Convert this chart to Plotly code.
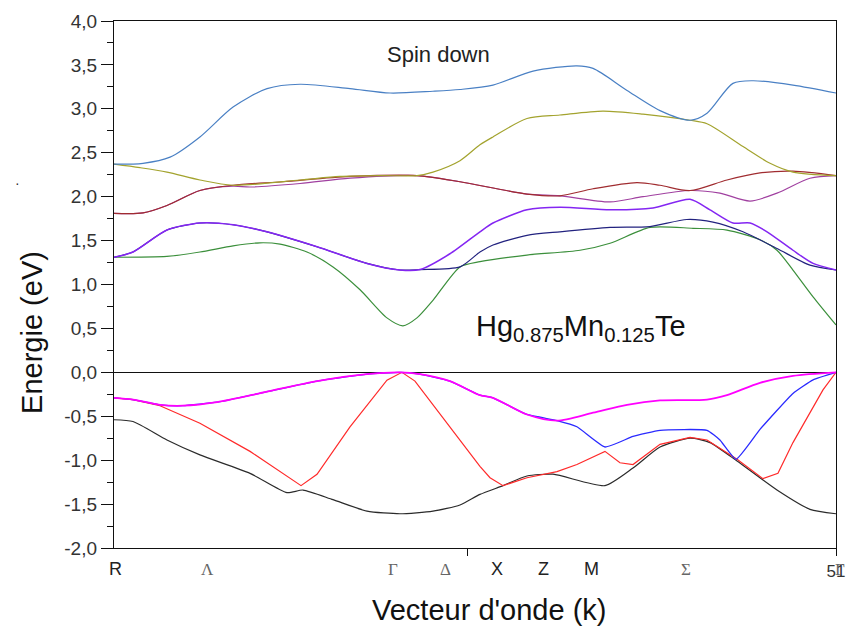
import plotly.graph_objects as go

# ---------------- data (k = k-point index along path, E in eV) ----------------
k_c6 = [0, 2.05, 3.96, 6.07, 8.41, 10.81, 13.14, 16.67, 19.50, 22.53, 24.44, 26.77, 29.60, 32.70, 33.84, 36.24, 38.57, 40.69, 41.89, 43.72, 45.14, 47.96, 51.0]
e_c6 = [2.37, 2.38, 2.45, 2.68, 3.02, 3.23, 3.28, 3.23, 3.18, 3.20, 3.22, 3.27, 3.43, 3.49, 3.46, 3.21, 2.98, 2.87, 2.95, 3.29, 3.32, 3.27, 3.18]

k_c5 = [0, 1.84, 3.74, 6.07, 8.41, 13.14, 15.96, 18.79, 21.40, 22.53, 24.44, 25.85, 26.77, 29.17, 31.50, 34.54, 37.37, 40.69, 41.89, 44.43, 46.34, 47.96, 51.0]
e_c5 = [2.37, 2.33, 2.28, 2.19, 2.13, 2.19, 2.23, 2.24, 2.24, 2.28, 2.41, 2.59, 2.68, 2.89, 2.93, 2.975, 2.94, 2.87, 2.83, 2.57, 2.38, 2.28, 2.24]

k_c4 = [0, 2.05, 3.74, 6.07, 8.41, 11.94, 16.67, 21.40, 24.44, 29.17, 31.50, 33.84, 36.94, 38.57, 40.69, 43.30, 45.63, 47.96, 51.0]
e_c4 = [1.81, 1.815, 1.90, 2.07, 2.13, 2.17, 2.23, 2.24, 2.17, 2.03, 2.01, 2.09, 2.16, 2.13, 2.07, 2.19, 2.27, 2.29, 2.24]

k_c3 = [0, 2.05, 3.74, 6.07, 8.41, 9.61, 13.14, 16.67, 21.40, 24.44, 29.17, 31.50, 35.04, 37.37, 40.69, 42.80, 44.93, 46.83, 49.16, 51.0]
e_c3 = [1.81, 1.815, 1.90, 2.07, 2.12, 2.11, 2.15, 2.21, 2.24, 2.17, 2.03, 2.01, 1.94, 2.00, 2.07, 2.04, 1.95, 2.04, 2.21, 2.24]

k_c2 = [0, 1.34, 3.74, 6.07, 8.41, 10.81, 14.34, 17.87, 20.20, 21.61, 23.73, 25.85, 26.77, 29.17, 31.50, 35.04, 38.07, 40.69, 42.10, 43.72, 44.93, 46.13, 47.96, 49.38, 51.0]
e_c2 = [1.31, 1.37, 1.62, 1.70, 1.68, 1.60, 1.43, 1.24, 1.165, 1.17, 1.35, 1.60, 1.70, 1.85, 1.88, 1.85, 1.87, 1.97, 1.85, 1.70, 1.70, 1.60, 1.39, 1.24, 1.165]

k_c1 = [0, 1.34, 3.74, 6.07, 8.41, 10.81, 14.34, 17.87, 20.20, 21.61, 24.44, 25.85, 26.77, 29.17, 31.50, 35.04, 37.86, 40.47, 42.31, 44.43, 46.83, 49.16, 51.0]
e_c1 = [1.31, 1.37, 1.62, 1.70, 1.68, 1.60, 1.43, 1.24, 1.165, 1.17, 1.20, 1.37, 1.45, 1.56, 1.60, 1.65, 1.66, 1.74, 1.71, 1.60, 1.41, 1.22, 1.165]

k_c0 = [0, 3.74, 6.07, 8.41, 10.31, 11.73, 13.63, 15.47, 17.38, 19.28, 20.41, 21.40, 22.53, 24.44, 25.85, 29.17, 32.92, 35.04, 37.86, 40.90, 43.30, 45.63, 46.83, 47.96, 49.38, 51.0]
e_c0 = [1.31, 1.32, 1.37, 1.44, 1.475, 1.46, 1.37, 1.20, 0.94, 0.62, 0.53, 0.62, 0.82, 1.20, 1.26, 1.335, 1.39, 1.47, 1.65, 1.64, 1.62, 1.51, 1.39, 1.165, 0.86, 0.54]

k_v3 = [0, 1.34, 3.25, 4.87, 7.28, 10.81, 14.34, 17.87, 20.20, 21.61, 23.73, 25.85, 26.77, 29.17, 31.29, 33.84, 36.24, 38.57, 41.89, 43.30, 45.63, 47.96, 51.0]
e_v3 = [-0.29, -0.31, -0.37, -0.38, -0.34, -0.22, -0.10, -0.02, 0.0, -0.02, -0.10, -0.26, -0.29, -0.48, -0.55, -0.46, -0.37, -0.32, -0.31, -0.26, -0.12, -0.04, 0.0]

k_v2 = [0, 1.34, 3.25, 4.87, 7.28, 10.81, 14.34, 17.87, 20.20, 21.61, 23.73, 25.85, 26.77, 29.17, 31.29, 32.70, 34.68, 36.66, 38.57, 41.89, 42.80, 43.94, 45.63, 47.96, 49.38, 51.0]
e_v2 = [-0.29, -0.31, -0.37, -0.38, -0.34, -0.22, -0.10, -0.02, 0.0, -0.02, -0.10, -0.26, -0.29, -0.48, -0.55, -0.62, -0.85, -0.73, -0.66, -0.66, -0.77, -0.99, -0.65, -0.24, -0.085, 0.0]

k_v1 = [0, 1.34, 3.25, 6.07, 9.61, 13.21, 14.34, 16.67, 19.28, 20.34, 21.26, 23.52, 25.85, 26.56, 27.48, 29.17, 31.29, 32.70, 34.68, 35.74, 36.66, 38.57, 40.69, 41.89, 44.01, 45.84, 46.90, 47.96, 50.08, 51.0]
e_v1 = [-0.29, -0.31, -0.38, -0.58, -0.90, -1.29, -1.16, -0.62, -0.09, 0.0, -0.10, -0.58, -1.07, -1.20, -1.29, -1.20, -1.13, -1.05, -0.90, -1.03, -1.05, -0.82, -0.74, -0.77, -0.99, -1.21, -1.15, -0.80, -0.20, 0.0]

k_v0 = [0, 1.34, 3.74, 6.07, 9.61, 12.22, 13.35, 15.47, 17.87, 20.20, 22.53, 24.44, 25.85, 27.48, 29.17, 31.01, 34.68, 36.66, 38.57, 40.69, 42.10, 44.01, 46.83, 49.16, 51.0]
e_v0 = [-0.54, -0.56, -0.77, -0.94, -1.15, -1.37, -1.34, -1.45, -1.58, -1.61, -1.58, -1.51, -1.39, -1.29, -1.18, -1.16, -1.29, -1.09, -0.85, -0.75, -0.80, -1.01, -1.34, -1.56, -1.61]

sym_labels = ["R", "Λ", "Γ", "Δ", "X", "Z", "M", "Σ", "Γ"]
sym_k = [0.14, 6.57, 19.7, 23.45, 27.05, 30.37, 33.76, 40.4, 51.0]
sym_greek = [False, True, True, True, False, False, False, True, True]

y_ticks = [-2.0, -1.5, -1.0, -0.5, 0.0, 0.5, 1.0, 1.5, 2.0, 2.5, 3.0, 3.5, 4.0]
y_ticktext = [f"{v:.1f}".replace(".", ",") for v in y_ticks]

# ---------------- figure ----------------
fig = go.Figure()

bands = [
    (k_v0, e_v0, "#2b2b2b", 1.2, "spline", 0.6),
    (k_v1, e_v1, "#ff2a2a", 1.2, "linear", 0),
    (k_v2, e_v2, "#2a2aff", 1.3, "spline", 0.4),
    (k_v3, e_v3, "#ff00ff", 1.8, "spline", 0.8),
    (k_c0, e_c0, "#3b8f3b", 1.2, "spline", 0.7),
    (k_c1, e_c1, "#22227f", 1.2, "spline", 0.7),
    (k_c2, e_c2, "#8426f2", 1.5, "spline", 0.7),
    (k_c3, e_c3, "#a040a0", 1.2, "spline", 0.8),
    (k_c4, e_c4, "#a02c30", 1.2, "spline", 0.8),
    (k_c5, e_c5, "#a3a32e", 1.2, "spline", 0.8),
    (k_c6, e_c6, "#4a80c4", 1.2, "spline", 0.8),
]
for kx, ey, col, w, shp, sm in bands:
    line = dict(color=col, width=w, shape=shp)
    if shp == "spline":
        line["smoothing"] = sm
    fig.add_trace(go.Scatter(x=kx, y=ey, mode="lines", line=line,
                             hoverinfo="skip", showlegend=False))

annotations = []
for lab, kk, gr in zip(sym_labels, sym_k, sym_greek):
    annotations.append(dict(
        x=kk, y=-0.040, xref="x", yref="paper", text=lab, showarrow=False,
        xanchor="center", yanchor="middle", xshift=4 if kk >= 51 else 0,
        font=dict(family="Liberation Serif" if gr else "Liberation Sans",
                  size=17 if gr else 18, color="#666" if gr else "#222")))

annotations += [
    dict(x=0.449, y=0.9355, xref="paper", yref="paper", text="Spin down",
         showarrow=False, xanchor="center", yanchor="middle",
         font=dict(family="Liberation Sans", size=22, color="#222")),
    dict(x=0.498, y=0.418, xref="paper", yref="paper",
         text="Hg<sub>0.875</sub>Mn<sub>0.125</sub>Te",
         showarrow=False, xanchor="left", yanchor="middle",
         font=dict(family="Liberation Sans", size=29, color="#111")),
    dict(x=0.519, y=-0.1176, xref="paper", yref="paper", text="Vecteur d'onde (k)",
         showarrow=False, xanchor="center", yanchor="middle",
         font=dict(family="Liberation Sans", size=29, color="#111")),
    dict(x=-0.1136, y=0.41, xref="paper", yref="paper", text="Energie (eV)",
         showarrow=False, xanchor="center", yanchor="middle", textangle=-90,
         font=dict(family="Liberation Sans", size=29, color="#111")),
    dict(x=-0.133, y=0.692, xref="paper", yref="paper", text="·",
         showarrow=False, xanchor="center", yanchor="middle",
         font=dict(family="Liberation Sans", size=14, color="#333")),
]

fig.update_layout(
    width=849, height=638,
    margin=dict(l=114, r=13, t=21, b=90, autoexpand=False),
    paper_bgcolor="white", plot_bgcolor="white",
    annotations=annotations,
    xaxis=dict(range=[0, 51], showgrid=False, zeroline=False, automargin=False,
               showline=True, linecolor="#111", linewidth=1.3, mirror=True,
               ticks="outside", ticklen=7, tickwidth=1.3, tickcolor="#111",
               tickvals=[25, 51], ticktext=["", "51"],
               tickfont=dict(family="Liberation Sans", size=17, color="#333")),
    yaxis=dict(range=[-2, 4], showgrid=False, automargin=False,
               zeroline=True, zerolinecolor="#111", zerolinewidth=1.3,
               showline=True, linecolor="#111", linewidth=1.3, mirror=True,
               ticks="outside", ticklen=12, tickwidth=1.3, tickcolor="#111",
               tickvals=y_ticks, ticktext=y_ticktext,
               minor=dict(dtick=0.25, tick0=0, ticks="outside", ticklen=6,
                          tickwidth=1.3, tickcolor="#111"),
               tickfont=dict(family="Liberation Sans", size=19, color="#333")),
)

fig.write_html("out.html")
